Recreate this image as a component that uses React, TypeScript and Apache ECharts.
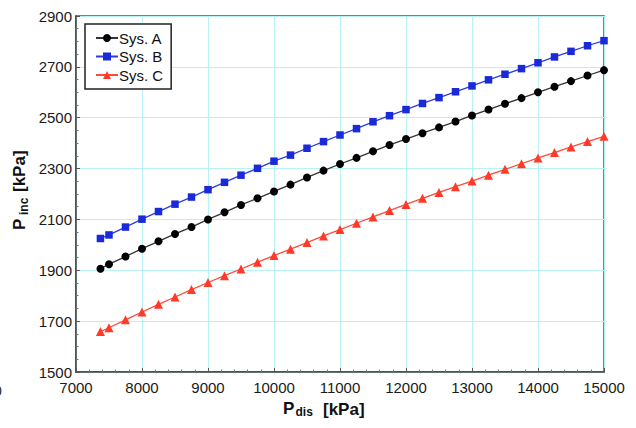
import React, { useEffect, useRef } from "react";
import * as echarts from "echarts";

// Discharge pressure (kPa) at which each system was evaluated
const dischargePressure = [
  7370, 7500, 7750, 8000, 8250, 8500, 8750, 9000, 9250, 9500, 9750,
  10000, 10250, 10500, 10750, 11000, 11250, 11500, 11750, 12000, 12250,
  12500, 12750, 13000, 13250, 13500, 13750, 14000, 14250, 14500, 14750, 15000,
];

// Inlet pressure (kPa) per system
const sysA = [
  1906, 1924, 1954, 1985, 2014, 2043, 2070, 2100, 2128, 2157, 2183,
  2210, 2237, 2265, 2292, 2318, 2342, 2368, 2393, 2416, 2439,
  2462, 2485, 2509, 2532, 2555, 2577, 2600, 2622, 2644, 2666, 2687,
];
const sysB = [
  2025, 2039, 2070, 2101, 2131, 2160, 2188, 2217, 2246, 2274, 2301,
  2329, 2353, 2380, 2406, 2432, 2457, 2484, 2508, 2532, 2556,
  2579, 2602, 2625, 2649, 2671, 2693, 2716, 2739, 2761, 2783, 2803,
];
const sysC = [
  1659, 1674, 1705, 1736, 1766, 1795, 1824, 1852, 1879, 1905, 1932,
  1958, 1983, 2009, 2035, 2060, 2085, 2110, 2135, 2159, 2183,
  2206, 2229, 2251, 2274, 2297, 2319, 2342, 2363, 2385, 2406, 2427,
];

const seriesNames = ["Sys. A", "Sys. B", "Sys. C"];

const FONT = "'Liberation Sans', Arial, Helvetica, sans-serif";

const pairs = (ys: number[]) => dischargePressure.map((x, i) => [x, ys[i]]);
const plain = (v: number) => String(v);

export default function App() {
  const ref = useRef<HTMLDivElement>(null);

  useEffect(() => {
    if (!ref.current) return;
    const chart = echarts.init(ref.current, undefined, { renderer: "svg" });

    const titleBold = { fontFamily: FONT, fontWeight: "bold" as const, fill: "#111" };

    chart.setOption({
      animation: false,
      backgroundColor: "#ffffff",
      textStyle: { fontFamily: FONT },
      grid: {
        left: 76,
        right: 32,
        top: 16,
        bottom: 56,
        show: true,
        borderColor: "#555",
        borderWidth: 1.5,
        backgroundColor: "transparent",
      },
      legend: {
        orient: "vertical",
        left: 85,
        top: 24,
        padding: [6.5, 8, 6.5, 10],
        itemWidth: 22,
        itemHeight: 10,
        itemGap: 3.5,
        backgroundColor: "#fff",
        borderColor: "#222",
        borderWidth: 1.5,
        borderRadius: 0,
        textStyle: { fontSize: 15, color: "#111", fontFamily: FONT, padding: [0, 0, 0, -4] },
        data: seriesNames,
      },
      xAxis: {
        type: "value",
        min: 7000,
        max: 15000,
        interval: 1000,
        axisLine: { show: true, lineStyle: { color: "#444", width: 1.5 } },
        axisTick: { show: true, inside: true, length: 4, lineStyle: { color: "#555" } },
        minorTick: { show: true, splitNumber: 5, length: 2.5, lineStyle: { color: "#777" } },
        splitLine: { show: true, lineStyle: { color: "#b8f2f2", width: 1 } },
        axisLabel: { fontSize: 15, color: "#1a1a1a", margin: 8, fontFamily: FONT, formatter: plain },
      },
      yAxis: {
        type: "value",
        min: 1500,
        max: 2900,
        interval: 200,
        axisLine: { show: true, lineStyle: { color: "#444", width: 1.5 } },
        axisTick: { show: true, inside: true, length: 4, lineStyle: { color: "#555" } },
        minorTick: { show: true, splitNumber: 4, length: 2.5, lineStyle: { color: "#777" } },
        splitLine: { show: true, lineStyle: { color: "#b8f2f2", width: 1 } },
        axisLabel: { fontSize: 15, color: "#1a1a1a", margin: 4, fontFamily: FONT, formatter: plain },
      },
      series: [
        {
          name: seriesNames[0],
          type: "line",
          data: pairs(sysA),
          symbol: "circle",
          symbolSize: 8,
          lineStyle: { color: "#333", width: 1.3 },
          itemStyle: { color: "#000" },
        },
        {
          name: seriesNames[1],
          type: "line",
          data: pairs(sysB),
          symbol: "rect",
          symbolSize: 7.5,
          lineStyle: { color: "#2a3ee0", width: 1.3 },
          itemStyle: { color: "#1a2ad8" },
        },
        {
          name: seriesNames[2],
          type: "line",
          data: pairs(sysC),
          symbol: "triangle",
          symbolSize: 9,
          lineStyle: { color: "#ff4a3a", width: 1.3 },
          itemStyle: { color: "#ff3a28" },
        },
      ],
      graphic: [
        // x-axis title: P_dis [kPa]
        {
          type: "group",
          x: 0,
          y: 0,
          children: [
            { type: "text", x: 283, y: 408, style: { ...titleBold, text: "P", fontSize: 17, verticalAlign: "middle" } },
            { type: "text", x: 295.5, y: 412, style: { ...titleBold, text: "dis", fontSize: 12, verticalAlign: "middle" } },
            { type: "text", x: 323, y: 409, style: { ...titleBold, text: "[kPa]", fontSize: 17, verticalAlign: "middle" } },
          ],
        },
        // y-axis title: P_inc [kPa], reading bottom to top
        {
          type: "group",
          x: 19.5,
          y: 230,
          rotation: Math.PI / 2,
          children: [
            { type: "text", x: 0, y: 0, style: { ...titleBold, text: "P", fontSize: 17, verticalAlign: "middle" } },
            { type: "text", x: 15, y: 4.5, style: { ...titleBold, text: "inc", fontSize: 12, verticalAlign: "middle" } },
            { type: "text", x: 38, y: 0, style: { ...titleBold, text: "[kPa]", fontSize: 17, verticalAlign: "middle" } },
          ],
        },
        {
          type: "text",
          x: -6,
          y: 391,
          style: { text: "0", fontSize: 14, fontFamily: FONT, fill: "#222", verticalAlign: "middle" },
        },
      ],
    });

    return () => chart.dispose();
  }, []);

  return (
    <div
      ref={ref}
      style={{ position: "absolute", left: 0, top: 0, width: 636, height: 428 }}
    />
  );
}
